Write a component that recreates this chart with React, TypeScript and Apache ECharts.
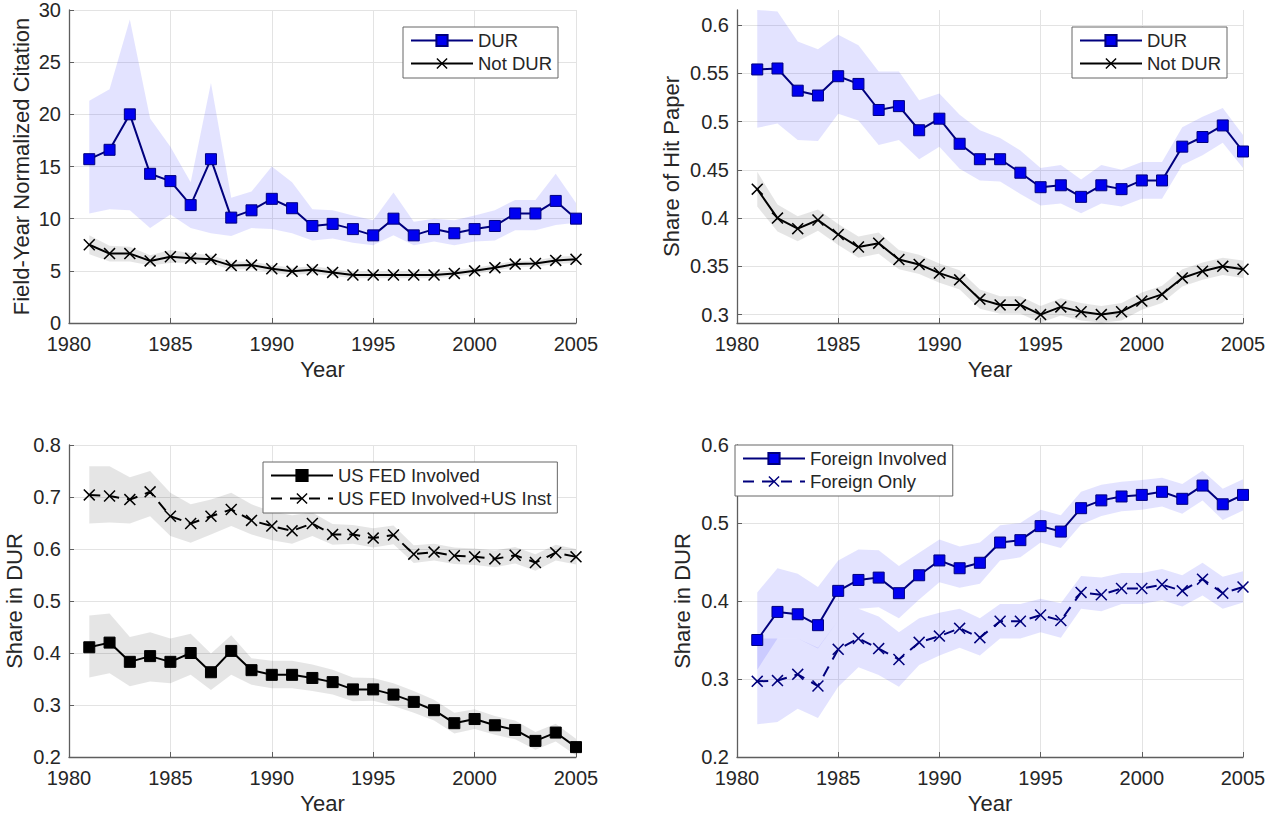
import React, { useEffect, useRef } from "react";
import * as echarts from "echarts";

// ---- data (1981–2005) ----
const years = [1981, 1982, 1983, 1984, 1985, 1986, 1987, 1988, 1989, 1990, 1991, 1992, 1993, 1994, 1995, 1996, 1997, 1998, 1999, 2000, 2001, 2002, 2003, 2004, 2005];

// Panel 1: field-year normalized citation
const durCitation = [15.7, 16.6, 20.0, 14.3, 13.6, 11.3, 15.7, 10.1, 10.8, 11.9, 11.0, 9.3, 9.5, 9.0, 8.4, 10.0, 8.4, 9.0, 8.6, 9.0, 9.3, 10.5, 10.5, 11.7, 10.0];
const durCitationLo = [10.5, 10.9, 10.8, 9.1, 10.4, 9.1, 8.6, 8.35, 9.1, 9.0, 8.6, 7.9, 8.1, 7.7, 7.45, 8.4, 7.45, 7.8, 7.45, 7.8, 7.9, 8.9, 8.9, 9.4, 9.6];
const durCitationHi = [21.3, 22.4, 29.1, 19.6, 16.9, 13.5, 23.0, 12.0, 12.6, 15.0, 13.5, 10.9, 10.8, 10.3, 9.85, 12.5, 9.7, 10.0, 9.85, 10.3, 10.8, 11.8, 11.8, 14.3, 11.5];
const notDurCitation = [7.5, 6.65, 6.65, 5.95, 6.35, 6.2, 6.1, 5.5, 5.55, 5.2, 4.95, 5.1, 4.85, 4.6, 4.6, 4.6, 4.6, 4.6, 4.75, 5.0, 5.3, 5.65, 5.7, 6.0, 6.1];
const notDurCitationLo = [6.6, 5.9, 5.9, 5.5, 5.75, 5.8, 5.7, 5.1, 5.2, 4.85, 4.6, 4.75, 4.5, 4.3, 4.3, 4.3, 4.3, 4.3, 4.45, 4.7, 5.0, 5.35, 5.4, 5.65, 5.75];
const notDurCitationHi = [8.4, 7.4, 7.3, 6.5, 7.0, 6.7, 6.5, 5.9, 5.9, 5.55, 5.3, 5.45, 5.2, 4.9, 4.9, 4.9, 4.9, 4.9, 5.05, 5.3, 5.6, 5.95, 6.0, 6.35, 6.45];

// Panel 2: share of hit paper
const durHit = [0.554, 0.555, 0.532, 0.527, 0.547, 0.539, 0.512, 0.516, 0.491, 0.503, 0.477, 0.461, 0.461, 0.447, 0.432, 0.434, 0.422, 0.434, 0.43, 0.439, 0.439, 0.474, 0.484, 0.496, 0.469];
const durHitLo = [0.4935, 0.498, 0.481, 0.48, 0.508, 0.501, 0.4756, 0.481, 0.461, 0.474, 0.451, 0.439, 0.438, 0.425, 0.413, 0.415, 0.405, 0.415, 0.412, 0.42, 0.42, 0.455, 0.465, 0.478, 0.452];
const durHitHi = [0.6156, 0.614, 0.583, 0.575, 0.59, 0.579, 0.552, 0.552, 0.522, 0.529, 0.507, 0.491, 0.483, 0.47, 0.452, 0.455, 0.44, 0.455, 0.45, 0.458, 0.458, 0.494, 0.505, 0.514, 0.486];
const notDurHit = [0.43, 0.4, 0.389, 0.398, 0.383, 0.37, 0.374, 0.357, 0.352, 0.343, 0.336, 0.316, 0.31, 0.31, 0.3, 0.308, 0.303, 0.3, 0.303, 0.314, 0.321, 0.338, 0.345, 0.35, 0.347];
const notDurHitLo = [0.412, 0.386, 0.376, 0.387, 0.372, 0.359, 0.363, 0.347, 0.342, 0.333, 0.326, 0.306, 0.301, 0.301, 0.2915, 0.299, 0.294, 0.2915, 0.294, 0.305, 0.312, 0.329, 0.336, 0.341, 0.338];
const notDurHitHi = [0.448, 0.414, 0.402, 0.409, 0.394, 0.381, 0.385, 0.367, 0.362, 0.353, 0.346, 0.326, 0.319, 0.319, 0.309, 0.317, 0.312, 0.309, 0.312, 0.323, 0.33, 0.347, 0.354, 0.359, 0.356];
const hitTicks = [0.3, 0.35, 0.4, 0.45, 0.5, 0.55, 0.6];

// Panel 3: US share in DUR
const fedInvolved = [0.411, 0.42, 0.383, 0.394, 0.383, 0.4, 0.363, 0.404, 0.367, 0.358, 0.358, 0.352, 0.344, 0.33, 0.33, 0.32, 0.306, 0.29, 0.265, 0.273, 0.261, 0.252, 0.231, 0.247, 0.219];
const fedInvolvedLo = [0.353, 0.361, 0.336, 0.345, 0.342, 0.358, 0.329, 0.358, 0.339, 0.332, 0.332, 0.327, 0.32, 0.307, 0.308, 0.298, 0.285, 0.27, 0.245, 0.254, 0.243, 0.234, 0.214, 0.23, 0.203];
const fedInvolvedHi = [0.472, 0.476, 0.431, 0.44, 0.428, 0.437, 0.399, 0.434, 0.39, 0.385, 0.385, 0.378, 0.368, 0.353, 0.352, 0.342, 0.327, 0.31, 0.285, 0.292, 0.279, 0.27, 0.248, 0.264, 0.235];
const fedUsInst = [0.704, 0.702, 0.695, 0.71, 0.663, 0.649, 0.663, 0.676, 0.655, 0.644, 0.635, 0.649, 0.628, 0.628, 0.621, 0.627, 0.59, 0.594, 0.587, 0.585, 0.581, 0.588, 0.574, 0.593, 0.585];
const fedUsInstLo = [0.649, 0.651, 0.649, 0.663, 0.625, 0.612, 0.628, 0.644, 0.628, 0.617, 0.61, 0.625, 0.608, 0.61, 0.603, 0.609, 0.573, 0.578, 0.571, 0.569, 0.565, 0.572, 0.558, 0.578, 0.57];
const fedUsInstHi = [0.759, 0.759, 0.738, 0.75, 0.708, 0.686, 0.695, 0.708, 0.686, 0.672, 0.665, 0.67, 0.648, 0.646, 0.64, 0.645, 0.607, 0.61, 0.603, 0.601, 0.597, 0.604, 0.59, 0.608, 0.6];

// Panel 4: foreign share in DUR
const foreignInvolved = [0.35, 0.386, 0.383, 0.369, 0.413, 0.427, 0.43, 0.41, 0.433, 0.452, 0.442, 0.449, 0.475, 0.478, 0.496, 0.489, 0.519, 0.529, 0.534, 0.536, 0.54, 0.531, 0.548, 0.524, 0.536];
const foreignInvolvedLo = [0.312, 0.352, 0.352, 0.339, 0.375, 0.39, 0.392, 0.378, 0.402, 0.424, 0.417, 0.422, 0.452, 0.456, 0.475, 0.468, 0.498, 0.509, 0.515, 0.517, 0.521, 0.512, 0.529, 0.504, 0.516];
const foreignInvolvedHi = [0.411, 0.442, 0.435, 0.418, 0.452, 0.466, 0.465, 0.445, 0.462, 0.479, 0.47, 0.475, 0.497, 0.5, 0.517, 0.51, 0.54, 0.549, 0.553, 0.555, 0.558, 0.55, 0.567, 0.544, 0.556];
const foreignOnly = [0.297, 0.298, 0.306, 0.291, 0.338, 0.352, 0.339, 0.325, 0.347, 0.355, 0.365, 0.353, 0.374, 0.374, 0.382, 0.375, 0.411, 0.408, 0.416, 0.416, 0.421, 0.413, 0.428, 0.41, 0.418];
const foreignOnlyLo = [0.242, 0.245, 0.262, 0.25, 0.29, 0.315, 0.305, 0.29, 0.318, 0.33, 0.34, 0.33, 0.352, 0.352, 0.36, 0.353, 0.39, 0.387, 0.396, 0.396, 0.401, 0.393, 0.407, 0.39, 0.398];
const foreignOnlyHi = [0.352, 0.352, 0.352, 0.34, 0.375, 0.39, 0.38, 0.36, 0.378, 0.385, 0.39, 0.378, 0.396, 0.396, 0.403, 0.397, 0.432, 0.43, 0.436, 0.436, 0.441, 0.433, 0.449, 0.431, 0.438];

// ---- styling ----
const FONT = "'Liberation Sans', Arial, Helvetica, sans-serif";
const TEXT = "#262626";
const AXIS = "#5e5e5e";
const GRID = "#e3e3e3";
const NAVY = "#00007d";
const BLUE = "#0000f0";
const BLUE_BAND = "rgba(60, 60, 255, 0.14)";
const GRAY_BAND = "rgba(0, 0, 0, 0.1)";
const CROSS = "path://M0,0.9L0.9,0L5,4.1L9.1,0L10,0.9L5.9,5L10,9.1L9.1,10L5,5.9L0.9,10L0,9.1L4.1,5Z";
const DASH = [11, 8];

const pairs = (vals: number[]) => vals.map((v, i) => [years[i], v]);

// Confidence band: one polygon, upper edge left→right then lower edge right→left,
// positioned through the grid's own coordinate system.
function bandSeries(lo: number[], hi: number[], gridIdx: number, id: string, color: string) {
  return {
    type: "custom",
    name: id,
    xAxisIndex: gridIdx,
    yAxisIndex: gridIdx,
    data: [[years[0], lo[0]]],
    silent: true,
    clip: true,
    z: 1,
    renderItem: (_params: any, api: any) => {
      const upper = years.map((y, i) => api.coord([y, hi[i]]));
      const lower = years.map((y, i) => api.coord([y, lo[i]])).reverse();
      return {
        type: "polygon",
        shape: { points: upper.concat(lower) },
        style: { fill: color, stroke: "none" },
      };
    },
  };
}

function lineSeries(name: string, vals: number[], gridIdx: number, marker: "square" | "cross", lineColor: string, fill: string, dashed = false) {
  return {
    type: "line",
    name,
    xAxisIndex: gridIdx,
    yAxisIndex: gridIdx,
    data: pairs(vals),
    symbol: marker === "square" ? "rect" : CROSS,
    symbolSize: marker === "square" ? 11 : 12,
    showSymbol: true,
    lineStyle: { color: lineColor, width: 2, type: dashed ? DASH : "solid" },
    itemStyle: marker === "square"
      ? { color: fill, borderColor: lineColor, borderWidth: 1 }
      : { color: lineColor, borderWidth: 0 },
    z: 3,
  };
}

function xAxis(gridIdx: number) {
  return {
    type: "value",
    gridIndex: gridIdx,
    min: 1980,
    max: 2005,
    interval: 5,
    name: "Year",
    nameLocation: "middle",
    nameGap: 35,
    nameTextStyle: { color: TEXT, fontSize: 22, fontFamily: FONT },
    axisLine: { show: true, onZero: false, lineStyle: { color: AXIS, width: 1.3 } },
    axisTick: { show: true, inside: true, length: 5, lineStyle: { color: AXIS, width: 1 } },
    axisLabel: { color: TEXT, fontSize: 20, lineHeight: 16, fontFamily: FONT, margin: 13, formatter: (v: number) => String(v) },
    splitLine: { show: true, lineStyle: { color: GRID, width: 1 } },
  };
}

function yAxis(gridIdx: number, name: string, nameGap: number, min: number, max: number, interval: number | null, custom?: number[]) {
  const ax: any = {
    type: "value",
    gridIndex: gridIdx,
    min,
    max,
    name,
    nameLocation: "middle",
    nameGap,
    nameTextStyle: { color: TEXT, fontSize: 22, fontFamily: FONT },
    axisLine: { show: true, onZero: false, lineStyle: { color: AXIS, width: 1.3 } },
    axisTick: { show: true, inside: true, length: 5, lineStyle: { color: AXIS, width: 1 } },
    axisLabel: { color: TEXT, fontSize: 20, lineHeight: 16, fontFamily: FONT, margin: 8 },
    splitLine: { show: true, lineStyle: { color: GRID, width: 1 } },
  };
  if (interval !== null) ax.interval = interval;
  if (custom) {
    ax.axisLabel.customValues = custom;
    ax.axisTick.customValues = custom;
  }
  return ax;
}

function legend(names: string[], left: number, top: number) {
  return {
    show: true,
    orient: "vertical",
    left,
    top,
    data: names,
    itemWidth: 62,
    itemHeight: 14,
    itemGap: 4,
    padding: [4, 6, 5, 7],
    backgroundColor: "#ffffff",
    borderColor: "#666666",
    borderWidth: 1,
    selectedMode: false,
    textStyle: { color: TEXT, fontSize: 18.5, fontFamily: FONT },
    z: 10,
  };
}

export default function App() {
  const ref = useRef<HTMLDivElement>(null);

  useEffect(() => {
    if (!ref.current) return;
    const chart = echarts.init(ref.current, null, { renderer: "svg" });
    const option: any = {
      animation: false,
      backgroundColor: "#ffffff",
      textStyle: { fontFamily: FONT },
      grid: [
        { left: 69, top: 10, width: 507, height: 313 },
        { left: 737, top: 10, width: 506, height: 313 },
        { left: 69, top: 445, width: 507, height: 314 },
        { left: 737, top: 445, width: 506, height: 314 },
      ],
      xAxis: [xAxis(0), xAxis(1), xAxis(2), xAxis(3)],
      yAxis: [
        yAxis(0, "Field-Year Normalized Citation", 37, 0, 30, 5),
        yAxis(1, "Share of Hit Paper", 55, 0.2913, 0.6156, null, hitTicks),
        yAxis(2, "Share in DUR", 44, 0.2, 0.8, 0.1),
        yAxis(3, "Share in DUR", 44, 0.2, 0.6, 0.1),
      ],
      legend: [
        legend(["DUR", "Not DUR"], 403, 27),
        legend(["DUR", "Not DUR"], 1072, 27),
        legend(["US FED Involved", "US FED Involved+US Inst"], 263, 462),
        legend(["Foreign Involved", "Foreign Only"], 735, 445),
      ],
      series: [
        // panel 1
        bandSeries(durCitationLo, durCitationHi, 0, "p1dur", BLUE_BAND),
        bandSeries(notDurCitationLo, notDurCitationHi, 0, "p1not", GRAY_BAND),
        lineSeries("DUR", durCitation, 0, "square", NAVY, BLUE),
        lineSeries("Not DUR", notDurCitation, 0, "cross", "#000000", "#000000"),
        // panel 2
        bandSeries(durHitLo, durHitHi, 1, "p2dur", BLUE_BAND),
        bandSeries(notDurHitLo, notDurHitHi, 1, "p2not", GRAY_BAND),
        lineSeries("DUR", durHit, 1, "square", NAVY, BLUE),
        lineSeries("Not DUR", notDurHit, 1, "cross", "#000000", "#000000"),
        // panel 3
        bandSeries(fedInvolvedLo, fedInvolvedHi, 2, "p3fed", GRAY_BAND),
        bandSeries(fedUsInstLo, fedUsInstHi, 2, "p3inst", GRAY_BAND),
        lineSeries("US FED Involved", fedInvolved, 2, "square", "#000000", "#000000"),
        lineSeries("US FED Involved+US Inst", fedUsInst, 2, "cross", "#000000", "#000000", true),
        // panel 4
        bandSeries(foreignInvolvedLo, foreignInvolvedHi, 3, "p4inv", BLUE_BAND),
        bandSeries(foreignOnlyLo, foreignOnlyHi, 3, "p4only", BLUE_BAND),
        lineSeries("Foreign Involved", foreignInvolved, 3, "square", NAVY, BLUE),
        lineSeries("Foreign Only", foreignOnly, 3, "cross", NAVY, NAVY, true),
      ],
    };
    chart.setOption(option);
    return () => chart.dispose();
  }, []);

  return (
    <div
      ref={ref}
      style={{ position: "fixed", left: 0, top: 0, width: 1269, height: 815, background: "#fff" }}
    />
  );
}
